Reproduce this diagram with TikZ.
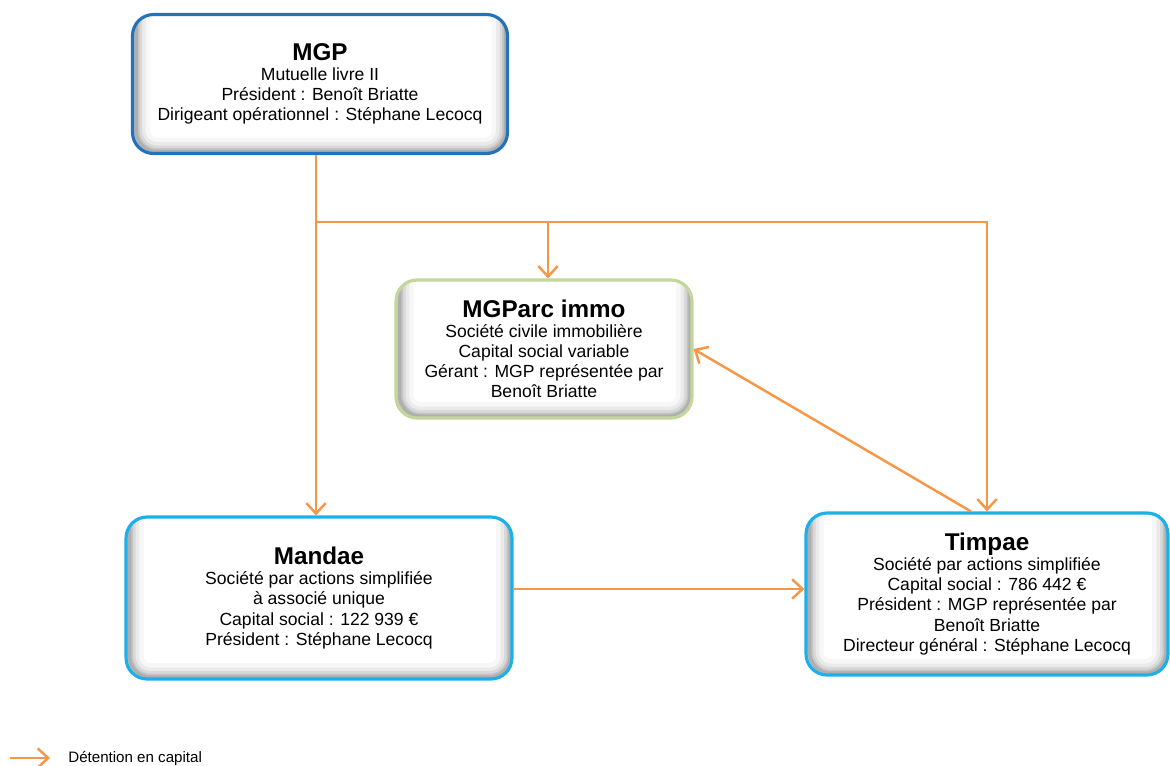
\documentclass[tikz,border=0pt]{standalone}
\usepackage{fontspec}
\setmainfont{Liberation Sans}
\usetikzlibrary{arrows.meta}
\definecolor{capitalorange}{HTML}{F79646}
\definecolor{mgpblue}{HTML}{2173BC}
\definecolor{parcgreen}{HTML}{C3D69B}
\definecolor{filialecyan}{HTML}{1CB0EA}
\newcommand{\entite}[1]{{\fontsize{13.8}{16.5}\selectfont\bfseries #1}}
\tikzset{
  societe/.style={draw=#1, line width=1.8pt, fill=white, rounded corners=0.42cm,
    align=center, font=\fontsize{10}{11.4}\selectfont, inner sep=0pt,
    path picture={
      \foreach \w/\o in {16/0.03,11/0.05,7/0.07,4/0.09,2/0.11}
        \draw[line width=\w pt, black, opacity=\o, rounded corners=0.42cm]
          ([yshift=1pt,xshift=2pt]path picture bounding box.south west) rectangle
          ([yshift=10pt,xshift=-1pt]path picture bounding box.north east);
    }},
  capital/.style={draw=capitalorange, line width=1.4pt,
    -{Straight Barb[length=6pt,width=11pt,line width=1.4pt]}}
}
\begin{document}
\begin{tikzpicture}[x=0.02cm, y=-0.02cm]
  \useasboundingbox (0,0) rectangle (1170,765);
  \node[societe=mgpblue, minimum width=7.5cm, minimum height=2.78cm] (mgp) at (320,84)
    {\entite{MGP}\\ Mutuelle livre II\\ Président : Benoît Briatte\\ Dirigeant opérationnel : Stéphane Lecocq};
  \node[societe=parcgreen, minimum width=5.92cm, minimum height=2.76cm] (parc) at (544,349)
    {\entite{MGParc immo}\\ Société civile immobilière\\ Capital social variable\\ Gérant : MGP représentée par\\ Benoît Briatte};
  \node[societe=filialecyan, minimum width=7.72cm, minimum height=3.24cm] (mandae) at (319,598)
    {\entite{Mandae}\\ Société par actions simplifiée\\ à associé unique\\ Capital social : 122 939 €\\ Président : Stéphane Lecocq};
  \node[societe=filialecyan, minimum width=7.24cm, minimum height=3.24cm] (timpae) at (987,594)
    {\entite{Timpae}\\ Société par actions simplifiée\\ Capital social : 786 442 €\\ Président : MGP représentée par\\ Benoît Briatte\\ Directeur général : Stéphane Lecocq};
  \coordinate (fork) at (316,222);
  \coordinate (parcdrop) at (548,222);
  \draw[capital] (mgp.south -| fork) -- (mandae.north -| fork);
  \draw[capital] (fork) -- (fork -| timpae.north) -- (timpae.north);
  \draw[capital] (parcdrop) -- (parc.north -| parcdrop);
  \draw[capital] ([yshift=0.18cm]mandae.east) -- ([yshift=0.18cm]mandae.east -| timpae.west);
  \draw[capital] ([xshift=-0.32cm]timpae.north) -- (parc.east);
  \node[anchor=west, font=\fontsize{8.6}{9.6}\selectfont, inner sep=0pt] (legende) at (68,758) {Détention en capital};
  \draw[capital] ([xshift=-1.16cm]legende.west) -- ([xshift=-0.36cm]legende.west);
\end{tikzpicture}
\end{document}
